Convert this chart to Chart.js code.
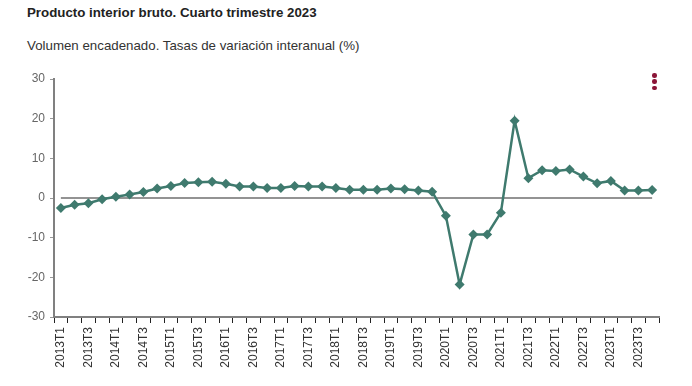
<!DOCTYPE html>
<html>
<head>
<meta charset="utf-8">
<script src="https://cdn.jsdelivr.net/npm/chart.js@4/dist/chart.umd.min.js"></script>
<style>
  body { margin: 0; background: #fff; font-family: "Liberation Sans", Arial, sans-serif; }
  #wrap { position: relative; width: 692px; height: 386px; overflow: hidden; }
  #title { position: absolute; left: 27px; top: 5px; font-size: 13.3px; font-weight: bold; color: #222; }
  #subtitle { position: absolute; left: 27px; top: 38px; font-size: 13.3px; color: #333; }
  #menu { position: absolute; left: 652px; top: 73px; }
  #menu span { display: block; width: 4.5px; height: 4.5px; border-radius: 50%; background: #8b1538; margin-bottom: 1.8px; }
  canvas { position: absolute; left: 0; top: 0; }
</style>
</head>
<body>
<div id="wrap">
  <div id="title">Producto interior bruto. Cuarto trimestre 2023</div>
  <div id="subtitle">Volumen encadenado. Tasas de variación interanual (%)</div>
  <canvas id="pibChart" width="692" height="386"></canvas>
  <div id="menu"><span></span><span></span><span></span></div>
</div>
<script>
// Quarters 2013T1 .. 2023T4
const years = [2013, 2014, 2015, 2016, 2017, 2018, 2019, 2020, 2021, 2022, 2023];
const quarters = ['T1', 'T2', 'T3', 'T4'];
const labels = [];
years.forEach(y => quarters.forEach(q => labels.push(y + q)));

// Year-on-year GDP growth (%)
const pibValues = [
  -2.5, -1.7, -1.3, -0.3,
   0.3,  0.9,  1.5,  2.4,
   3.0,  3.8,  4.0,  4.1,
   3.6,  2.9,  2.9,  2.5,
   2.5,  3.0,  2.9,  2.9,
   2.5,  2.1,  2.1,  2.1,
   2.4,  2.2,  1.9,  1.6,
  -4.5, -21.8, -9.2, -9.2,
  -3.7, 19.5,  5.0,  7.0,
   6.8,  7.2,  5.4,  3.7,
   4.3,  1.9,  1.9,  2.0
];
const zeroLine = labels.map(() => 0);

const yTicks = [-30, -20, -10, 0, 10, 20, 30];

const ctx = document.getElementById('pibChart').getContext('2d');
new Chart(ctx, {
  type: 'line',
  data: {
    labels: labels,
    datasets: [{
      data: pibValues,
      borderColor: '#3f7a6e',
      backgroundColor: '#3f7a6e',
      borderWidth: 2.5,
      pointStyle: 'rectRot',
      pointRadius: 5,
      pointBorderWidth: 0,
      tension: 0,
      order: 0
    }, {
      data: zeroLine,
      borderColor: '#6f6f6f',
      borderWidth: 1.5,
      pointRadius: 0,
      order: 1
    }]
  },
  options: {
    responsive: false,
    animation: false,
    layout: { padding: { top: 79, right: 33, left: 0, bottom: 0 } },
    plugins: { legend: { display: false }, tooltip: { enabled: false } },
    scales: {
      x: {
        offset: true,
        grid: { offset: true, drawOnChartArea: false, tickLength: 6, color: '#222', lineWidth: 1 },
        border: { color: '#808080', width: 2 },
        ticks: {
          autoSkip: false,
          maxRotation: 90,
          minRotation: 90,
          padding: 4,
          color: '#333',
          font: { family: '"Liberation Sans", Arial, sans-serif', size: 12 },
          callback: (v, i) => (i % 2 === 0 ? labels[i] : '')
        },
        afterFit: s => { s.height = 69; }
      },
      y: {
        min: -30,
        max: 30,
        afterBuildTicks: s => { s.ticks = yTicks.map(v => ({ value: v })); },
        grid: { drawOnChartArea: false, tickLength: 4, color: '#999' },
        border: { color: '#808080', width: 2 },
        ticks: {
          padding: 5,
          color: '#666',
          font: { family: '"Liberation Sans", Arial, sans-serif', size: 12 }
        },
        afterFit: s => { s.width = 54; }
      }
    }
  }
});
</script>
</body>
</html>
